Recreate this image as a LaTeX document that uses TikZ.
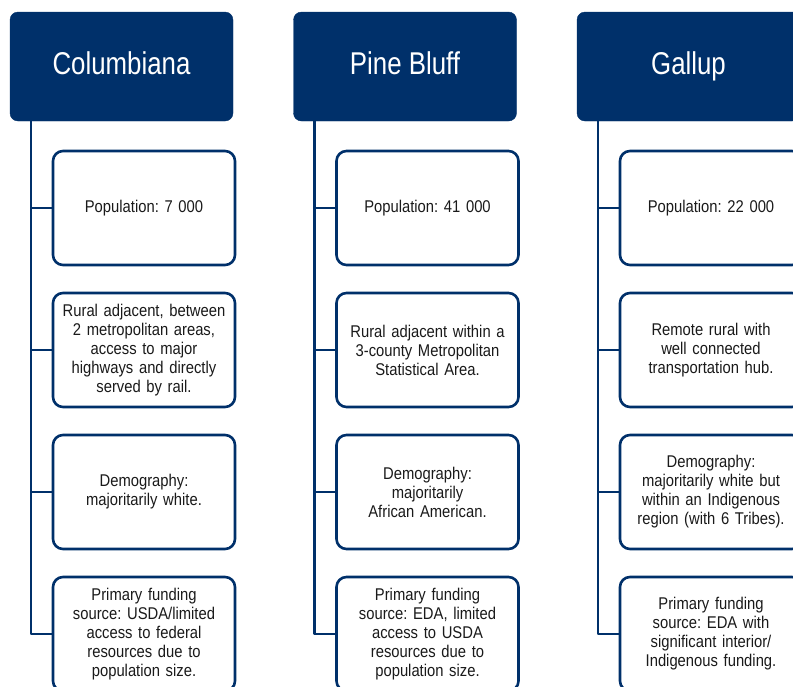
\documentclass[tikz,border=0pt]{standalone}
\usepackage{fontspec}
\setmainfont[FakeStretch=0.87]{Liberation Sans}
\newfontfamily\townfont[FakeStretch=0.82]{Liberation Sans}
\frenchspacing
\usetikzlibrary{positioning}
\definecolor{cmnavy}{HTML}{00306A}
\definecolor{cmtext}{HTML}{1A1A1A}

\begin{document}
\begin{tikzpicture}[x=1pt, y=-1pt, line join=round,
    town/.style={draw=cmnavy, fill=cmnavy, rounded corners=8pt, minimum width=223pt,
                 minimum height=109pt, inner sep=0pt, text=white,
                 text height=23pt, text depth=7pt,
                 font=\townfont\fontsize{31.5}{36}\selectfont},
    fact/.style={draw=cmnavy, line width=2.6pt, fill=white, rounded corners=10pt,
                 minimum width=182pt, minimum height=114pt, inner sep=0pt,
                 text width=176pt, align=center, text=cmtext,
                 font=\fontsize{17}{19}\selectfont},
    link/.style={draw=cmnavy, line width=2.6pt}]
  \useasboundingbox (0,0) rectangle (793,686);
  \clip (0,0) rectangle (793,686);
  % (1) Columbiana
  \begin{scope}[xshift=0pt]
    \node[town] (colH) at (121.5,66.5) {Columbiana};
    \node[fact] (colA) at (144,208) {Population: 7 000};
    \node[fact] (colB) at (144,350) {Rural adjacent, between\\2 metropolitan areas,\\access to major\\highways and directly\\served by rail.};
    \node[fact] (colC) at (144,492) {Demography:\\majoritarily white.};
    \node[fact] (colD) at (144,634) {Primary funding\\source: USDA/limited\\access to federal\\resources due to\\population size.};
    \foreach \b in {colA,colB,colC,colD}
      \draw[link] ([xshift=21pt]colH.south west) |- (\b.west);
  \end{scope}
  % (2) Pine Bluff
  \begin{scope}[xshift=283.5pt]
    \node[town] (pbH) at (121.5,66.5) {Pine Bluff};
    \node[fact] (pbA) at (144,208) {Population: 41 000};
    \node[fact] (pbB) at (144,350) {Rural adjacent within a\\3-county Metropolitan\\Statistical Area.};
    \node[fact] (pbC) at (144,492) {Demography:\\majoritarily\\African American.};
    \node[fact] (pbD) at (144,634) {Primary funding\\source: EDA, limited\\access to USDA\\resources due to\\population size.};
    \foreach \b in {pbA,pbB,pbC,pbD}
      \draw[link] ([xshift=21pt]pbH.south west) |- (\b.west);
  \end{scope}
  % (3) Gallup
  \begin{scope}[xshift=567pt]
    \node[town] (gaH) at (121.5,66.5) {Gallup};
    \node[fact] (gaA) at (144,208) {Population: 22 000};
    \node[fact] (gaB) at (144,350) {Remote rural with\\well connected\\transportation hub.};
    \node[fact] (gaC) at (144,492) {Demography:\\majoritarily white but\\within an Indigenous\\region (with 6 Tribes).};
    \node[fact] (gaD) at (144,634) {Primary funding\\source: EDA with\\significant interior/\\Indigenous funding.};
    \foreach \b in {gaA,gaB,gaC,gaD}
      \draw[link] ([xshift=21pt]gaH.south west) |- (\b.west);
  \end{scope}
\end{tikzpicture}
\end{document}
